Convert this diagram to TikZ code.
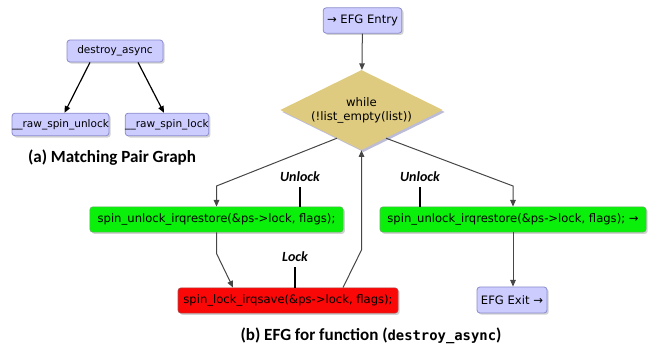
\documentclass[tikz,border=0pt]{standalone}
\usepackage{fontspec}
\setmainfont{DejaVu Sans}
\newfontfamily\capfont{Carlito}
\newfontfamily\codefont{DejaVu Sans Mono}
\usetikzlibrary{shapes.geometric,shadows,arrows.meta,calc}

\definecolor{nodeblue}{RGB}{204,204,255}
\definecolor{nodeblueline}{RGB}{140,140,205}
\definecolor{condfill}{RGB}{222,203,128}
\definecolor{unlockgreen}{RGB}{10,240,10}
\definecolor{lockred}{RGB}{250,8,8}
\definecolor{edgegray}{RGB}{70,70,70}

\tikzset{
  box/.style={rectangle, rounded corners=2.2pt, inner sep=0pt,
    font=\fontsize{8.7}{10}\selectfont, text=black,
    drop shadow={shadow xshift=1.3pt, shadow yshift=-1.3pt, fill=gray!70, opacity=0.5}},
  bluebox/.style={box, fill=nodeblue, draw=nodeblueline, line width=0.6pt},
  pairbox/.style={bluebox, font=\fontsize{7.9}{9}\selectfont},
  greenbox/.style={box, fill=unlockgreen, draw=green!45!black!60, line width=0.4pt},
  redbox/.style={box, fill=lockred, draw=red!50!black!70, line width=0.4pt},
  condbox/.style={diamond, aspect=2.04, inner sep=0pt, fill=condfill, draw=none,
    align=center, font=\fontsize{8.8}{10.6}\selectfont,
    drop shadow={shadow xshift=1.5pt, shadow yshift=-1.5pt, fill=blue!25!gray!70, opacity=0.6}},
  flow/.style={draw=edgegray, line width=0.75pt, -{Triangle[length=5pt,width=4.2pt]}},
  pairedge/.style={draw=black, line width=0.9pt, -{Triangle[length=5pt,width=4.2pt]}},
  tag/.style={font=\capfont\bfseries\itshape\fontsize{10.5}{12}\selectfont},
  tick/.style={draw=black, line width=1.3pt},
  caption/.style={font=\capfont\bfseries\fontsize{12.8}{15}\selectfont}
}

\begin{document}
\begin{tikzpicture}[x=0.75pt,y=-0.75pt]
\useasboundingbox (0,0) rectangle (651,356);

% (a) matching pair graph
\node[pairbox, minimum width=72pt, minimum height=16.5pt] (da) at (115,51) {destroy\_async};
\node[pairbox, minimum width=71pt, minimum height=17pt] (ru) at (60.5,124.5) {\_\_raw\_spin\_unlock};
\node[pairbox, minimum width=58.5pt, minimum height=17pt] (rl) at (167,124.5) {\_\_raw\_spin\_lock};
\draw[pairedge] ($(da.south)+(-25,0)$) -- ($(ru.north)+(4,0)$);
\draw[pairedge] ($(da.south)+(23,0)$) -- ($(rl.north)+(-3,0)$);
\node[caption] (capa) at (112,158) {(a) Matching Pair Graph};

% (b) EFG for destroy_async
\node[bluebox, minimum width=59pt, minimum height=19pt] (entry) at (362.5,20.5) {→ EFG Entry};
\node[condbox, minimum width=122pt, minimum height=60pt] (cond) at (361.5,110) {while\\(!list\_empty(list))};
\node[greenbox, minimum width=190pt, minimum height=19pt] (unl) at (216.5,219.5) {spin\_unlock\_irqrestore(\&ps->lock, flags);};
\node[redbox, minimum width=165pt, minimum height=19pt] (lk) at (288,300.5) {spin\_lock\_irqsave(\&ps->lock, flags);};
\node[greenbox, minimum width=199.5pt, minimum height=19pt] (unr) at (513,219.5) {spin\_unlock\_irqrestore(\&ps->lock, flags); →};
\node[bluebox, minimum width=52.5pt, minimum height=19.5pt] (exit) at (512,300) {EFG Exit →};

% control-flow edges
\draw[flow] (entry) -- (cond);
\coordinate (cl) at ($(cond.south)!0.3!(cond.west)$);
\coordinate (cr) at ($(cond.south)!0.3!(cond.east)$);
\draw[flow] (cl) -- (unl.north |- 0,186) -- (unl.north);
\draw[flow] (cr) -- (unr.north |- 0,186) -- (unr.north);
\draw[flow] (unl.south) -- ($(unl.south)+(0,21)$) -- ($(lk.north)+(-55,0)$);
\draw[flow] ($(lk.north)+(55,0)$) -- (cond.south |- 0,250) -- (cond.south);
\draw[flow] (unr.south) -- (unr.south |- exit.north);

% lock / unlock markers
\draw[tick] ($(unl.north)+(83.5,0)$) -- ++(0,-20) node[tag, above=0pt] (tagul) {Unlock};
\draw[tick] ($(lk.north)+(7,0)$) -- ++(0,-21) node[tag, above=0pt] (taglk) {Lock};
\draw[tick] ($(unr.north)+(-93,0)$) -- ++(0,-20) node[tag, above=0pt] (tagur) {Unlock};

\node[caption] (capb) at (371,336) {(b) EFG for function ({\codefont\bfseries\fontsize{10.4}{12}\selectfont destroy\_async})};
\end{tikzpicture}
\end{document}
